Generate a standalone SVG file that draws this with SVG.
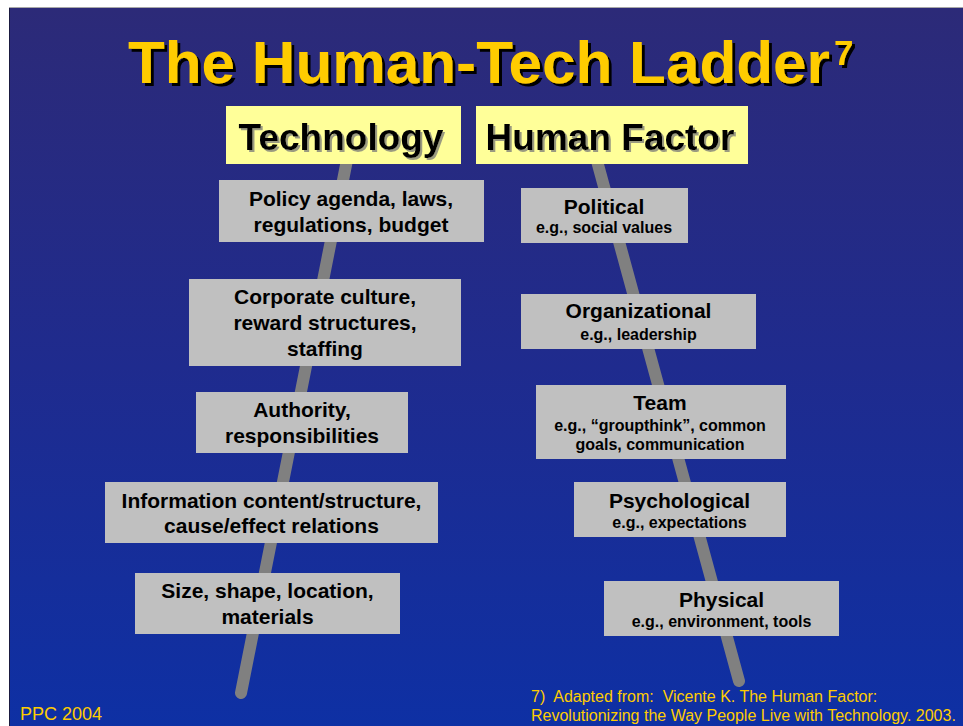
<svg xmlns="http://www.w3.org/2000/svg" width="963" height="726" viewBox="0 0 963 726">
  <defs>
    <linearGradient id="bg" x1="0" y1="0" x2="0" y2="1">
      <stop offset="0" stop-color="#2C2A78"/>
      <stop offset="0.5" stop-color="#1F2B8E"/>
      <stop offset="1" stop-color="#0E30A4"/>
    </linearGradient>
    <!-- hard black drop shadow for the title -->
    <filter id="title-shadow" x="-5%" y="-20%" width="110%" height="140%">
      <feFlood flood-color="#000000" result="c"/>
      <feComposite in="c" in2="SourceAlpha" operator="in" result="s"/>
      <feOffset in="s" dx="3" dy="3" result="o"/>
      <feMerge><feMergeNode in="o"/><feMergeNode in="SourceGraphic"/></feMerge>
    </filter>
    <!-- faint grey shadow for the column headers -->
    <filter id="head-shadow" x="-5%" y="-20%" width="110%" height="140%">
      <feFlood flood-color="#9A9A80" result="c"/>
      <feComposite in="c" in2="SourceAlpha" operator="in" result="s"/>
      <feOffset in="s" dx="1.5" dy="1.5" result="o"/>
      <feMerge><feMergeNode in="o"/><feMergeNode in="SourceGraphic"/></feMerge>
    </filter>
    <style>
      .title { font-family: "Liberation Sans", Arial, sans-serif; font-weight: bold; fill: #FFCC00; }
      .head-box { fill: #FFFF99; }
      .head { font-family: "Liberation Sans", Arial, sans-serif; font-weight: bold; font-size: 37px; fill: #000000; text-anchor: middle; }
      .box { fill: #C0C0C0; }
      .lbl { font-family: "Liberation Sans", Arial, sans-serif; font-weight: bold; font-size: 21px; fill: #000000; text-anchor: middle; }
      .sub { font-family: "Liberation Sans", Arial, sans-serif; font-weight: bold; font-size: 16px; fill: #000000; text-anchor: middle; }
      .rail { stroke: #808080; stroke-width: 12; stroke-linecap: round; fill: none; }
      .foot { font-family: "Liberation Sans", Arial, sans-serif; fill: #FFCC00; white-space: pre; }
    </style>
  </defs>

  <!-- page margin and slide background -->
  <rect x="0" y="0" width="963" height="726" fill="#FFFFFF"/>
  <line x1="9" y1="7.5" x2="963" y2="7.5" stroke="#A8A8A8" stroke-width="1"/>
  <rect x="10" y="8" width="953" height="718" fill="url(#bg)"/>
  <line x1="9.5" y1="8" x2="9.5" y2="726" stroke="#1A1A40" stroke-width="1"/>

  <!-- title -->
  <g id="title" filter="url(#title-shadow)">
    <text class="title" x="128" y="83" font-size="60" textLength="702" lengthAdjust="spacingAndGlyphs">The Human-Tech Ladder</text>
    <text class="title" x="834" y="65" font-size="35">7</text>
  </g>

  <!-- ladder rails -->
  <g id="connectors">
    <line class="rail" x1="349" y1="150" x2="241" y2="693"/>
    <line class="rail" x1="594" y1="150" x2="739" y2="681"/>
  </g>

  <!-- column headers -->
  <g id="header-technology">
    <rect class="head-box" x="226" y="106" width="235" height="58"/>
    <text class="head" x="341" y="150" filter="url(#head-shadow)">Technology</text>
  </g>
  <g id="header-human-factor">
    <rect class="head-box" x="476" y="106" width="272" height="58"/>
    <text class="head" x="610" y="150" filter="url(#head-shadow)">Human Factor</text>
  </g>

  <!-- technology rungs -->
  <g id="tech-policy">
    <rect class="box" x="219" y="180" width="265" height="62"/>
    <text class="lbl" x="351" y="206">Policy agenda, laws,</text>
    <text class="lbl" x="351" y="231.5">regulations, budget</text>
  </g>
  <g id="tech-corporate">
    <rect class="box" x="189" y="279" width="272" height="87"/>
    <text class="lbl" x="325" y="304">Corporate culture,</text>
    <text class="lbl" x="325" y="330">reward structures,</text>
    <text class="lbl" x="325" y="355.5">staffing</text>
  </g>
  <g id="tech-authority">
    <rect class="box" x="196" y="392" width="212" height="61"/>
    <text class="lbl" x="302" y="417">Authority,</text>
    <text class="lbl" x="302" y="443">responsibilities</text>
  </g>
  <g id="tech-information">
    <rect class="box" x="105" y="482" width="333" height="61"/>
    <text class="lbl" x="271.5" y="508">Information content/structure,</text>
    <text class="lbl" x="271.5" y="533">cause/effect relations</text>
  </g>
  <g id="tech-size">
    <rect class="box" x="135" y="573" width="265" height="61"/>
    <text class="lbl" x="267.5" y="598">Size, shape, location,</text>
    <text class="lbl" x="267.5" y="624">materials</text>
  </g>

  <!-- human factor rungs -->
  <g id="hf-political">
    <rect class="box" x="521" y="188" width="167" height="55"/>
    <text class="lbl" x="604" y="214">Political</text>
    <text class="sub" x="604" y="233">e.g., social values</text>
  </g>
  <g id="hf-organizational">
    <rect class="box" x="521" y="294" width="235" height="55"/>
    <text class="lbl" x="638.5" y="318">Organizational</text>
    <text class="sub" x="638.5" y="340">e.g., leadership</text>
  </g>
  <g id="hf-team">
    <rect class="box" x="536" y="385" width="250" height="74"/>
    <text class="lbl" x="660" y="410">Team</text>
    <text class="sub" x="660" y="431">e.g., “groupthink”, common</text>
    <text class="sub" x="660" y="450">goals, communication</text>
  </g>
  <g id="hf-psychological">
    <rect class="box" x="574" y="482" width="212" height="55"/>
    <text class="lbl" x="679.5" y="508">Psychological</text>
    <text class="sub" x="679.5" y="528">e.g., expectations</text>
  </g>
  <g id="hf-physical">
    <rect class="box" x="604" y="581" width="235" height="55"/>
    <text class="lbl" x="721.5" y="606.5">Physical</text>
    <text class="sub" x="721.5" y="626.5">e.g., environment, tools</text>
  </g>

  <!-- footer -->
  <g id="footer">
    <text class="foot" x="20" y="720" font-size="18">PPC 2004</text>
    <text class="foot" x="531" y="702" font-size="16" xml:space="preserve">7)  Adapted from:  Vicente K. The Human Factor:</text>
    <text class="foot" x="531" y="721" font-size="16">Revolutionizing the Way People Live with Technology. 2003.</text>
  </g>
</svg>
